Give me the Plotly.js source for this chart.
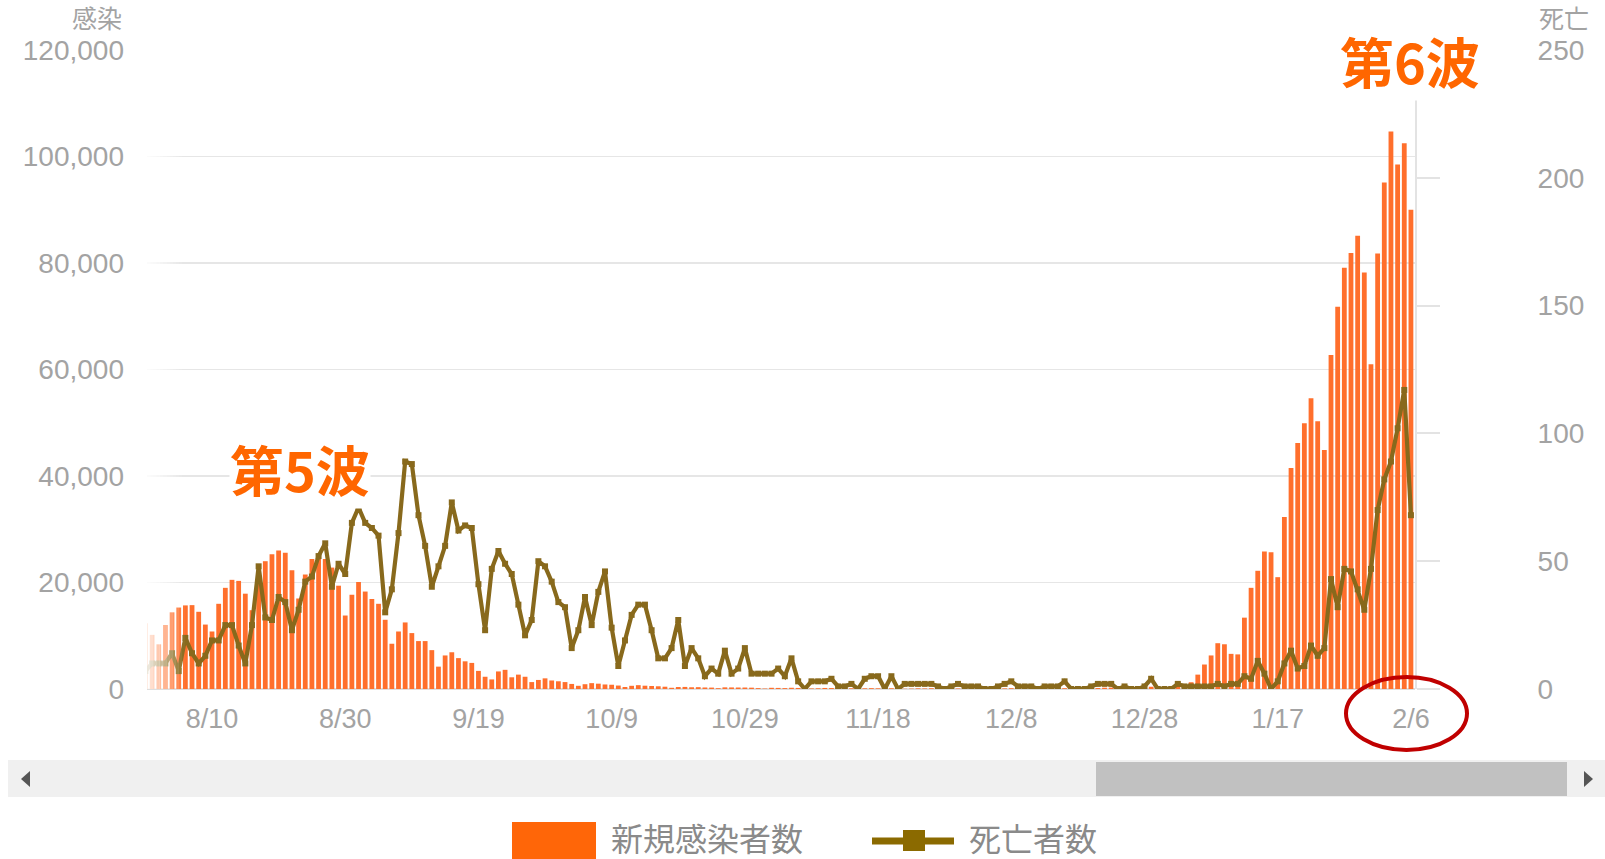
<!DOCTYPE html>
<html>
<head>
<meta charset="utf-8">
<script src="https://cdn.plot.ly/plotly-3.0.1.min.js"></script>
<style>
  html, body { margin:0; padding:0; background:#fff; }
  #chart { width:1605px; height:859px; }
</style>
</head>
<body>
<div id="chart"></div>
<script>
// ---------------- DATA ----------------
const startDate = '2021-07-31';   // first day of the series, one value per day after it

// 新規感染者数 (daily new cases), 7/31 .. 2/6
const cases = [
  12341,
  // Aug
  10168, 8392, 12016, 14400, 15300, 15700, 15750, 14500, 12100, 10800,
  16000, 19000, 20500, 20300, 17900, 14800, 20000, 24000, 25300, 26000,
  25600, 22300, 17000, 21500, 24400, 25000, 24400, 22800, 19400, 13800, 17700,
  // Sep
  20100, 18300, 16900, 16000, 13000, 8500, 10800, 12500, 10500, 9000,
  9000, 7300, 4200, 6300, 6900, 5800, 5200, 4900, 3400, 2300,
  1800, 3300, 3600, 2200, 2700, 2300, 1300, 1700, 2000, 1600,
  // Oct
  1450, 1300, 950, 600, 900, 1100, 1000, 850, 800, 650,
  380, 600, 720, 620, 560, 510, 430, 230, 370, 390,
  325, 345, 285, 265, 155, 310, 295, 280, 277, 250, 166,
  // Nov
  86, 227, 203, 165, 231, 198, 162, 106, 136, 195,
  179, 202, 165, 133, 80, 127, 157, 129, 154, 141,
  114, 50, 76, 125, 100, 146, 129, 118, 77, 101,
  // Dec
  121, 118, 119, 121, 113, 83, 109, 150, 160, 145,
  159, 132, 63, 161, 181, 149, 181, 181, 150, 100,
  182, 245, 263, 291, 323, 262, 204, 382, 422, 502, 493,
  // Jan
  456, 554, 782, 1268, 2700, 4600, 6300, 8600, 8400, 6600,
  6500, 13400, 19000, 22200, 25800, 25700, 21000, 32300, 41500, 46200,
  49900, 54600, 50300, 44900, 62700, 71800, 79100, 81900, 85100, 78200, 61000,
  // Feb
  81800, 95100, 104700, 98500, 102500, 90000
];

// 死亡者数 (daily deaths), 7/31 .. 2/6
const deaths = [
  7,
  // Aug
  10, 10, 10, 14, 7, 20, 14, 10, 13, 19,
  19, 25, 25, 17, 10, 25, 48, 28, 27, 36,
  34, 23, 31, 42, 44, 52, 57, 40, 49, 45, 65,
  // Sep
  71, 65, 63, 60, 30, 39, 61, 89, 88, 68,
  56, 40, 48, 56, 73, 62, 64, 63, 41, 23,
  47, 54, 49, 45, 33, 21, 27, 50, 48, 42,
  // Oct
  34, 32, 16, 23, 36, 25, 38, 46, 24, 9,
  19, 29, 33, 33, 23, 12, 12, 16, 27, 9,
  16, 12, 5, 8, 6, 15, 6, 8, 16, 6, 6,
  // Nov
  6, 6, 8, 5, 12, 3, 0, 3, 3, 3,
  4, 1, 1, 2, 0, 4, 5, 5, 0, 5,
  0, 2, 2, 2, 2, 2, 1, 0, 1, 2,
  // Dec
  1, 1, 1, 0, 0, 1, 2, 3, 1, 1,
  1, 0, 1, 1, 1, 3, 0, 0, 0, 1,
  2, 2, 2, 0, 1, 0, 0, 1, 4, 0, 0,
  // Jan
  0, 2, 1, 1, 1, 1, 1, 2, 1, 2,
  2, 5, 4, 11, 6, 0, 3, 10, 15, 8,
  9, 17, 13, 16, 43, 32, 47, 46, 39, 31, 47,
  // Feb
  70, 82, 89, 102, 117, 68
];

const tickDates  = ['2021-08-10','2021-08-30','2021-09-19','2021-10-09','2021-10-29',
                    '2021-11-18','2021-12-08','2021-12-28','2022-01-17','2022-02-06'];
const tickLabels = ['8/10','8/30','9/19','10/9','10/29','11/18','12/8','12/28','1/17','2/6'];

const leftTicks  = [0, 20000, 40000, 60000, 80000, 100000, 120000];
const rightTicks = [0, 50, 100, 150, 200, 250];

const seriesNames = ['新規感染者数', '死亡者数'];
const waveLabels  = ['第5波', '第6波'];
const axisTitles  = ['感染', '死亡'];

// ---------------- BUILD ----------------
const dates = [];
{
  const t0 = Date.parse(startDate + 'T00:00:00Z');
  for (let i = 0; i < cases.length; i++) {
    dates.push(new Date(t0 + i * 86400000).toISOString().slice(0, 10));
  }
}

const W = 1605, H = 859;
const M = { l: 147, r: 190, t: 50, b: 170 };
const PW = W - M.l - M.r, PH = H - M.t - M.b;
const PX = x => (x - M.l) / PW;
const PY = y => (H - M.b - y) / PH;

const ORANGE = '#ff6f2c';
const OLIVE = '#88691c';
const TICKGRAY = '#a3a3a3';
const TXT = '"Liberation Sans", Arial, Helvetica, sans-serif';
const CJK = '"Noto Sans CJK JP", "Noto Sans", sans-serif';

const traces = [
  {
    type: 'bar', x: dates, y: cases, name: seriesNames[0],
    marker: { color: ORANGE }, yaxis: 'y', hoverinfo: 'x+y'
  },
  {
    type: 'scatter', mode: 'lines+markers', x: dates, y: deaths, name: seriesNames[1],
    line: { color: OLIVE, width: 4.2 },
    marker: { color: OLIVE, symbol: 'square', size: 6 },
    yaxis: 'y2'
  }
];

const shapes = [];
// left fade-out overlay
const fadeW = 38, nStrips = 12;
for (let k = 0; k < nStrips; k++) {
  const x0 = M.l + k * fadeW / nStrips, x1 = M.l + (k + 1) * fadeW / nStrips + 0.3;
  shapes.push({
    type: 'rect', xref: 'paper', yref: 'paper', x0: PX(x0), x1: PX(x1), y0: 0, y1: 1,
    fillcolor: '#ffffff', opacity: 0.88 * (1 - (k + 0.5) / nStrips),
    line: { width: 0 }, layer: 'above'
  });
}
// scrollbar
shapes.push({ type: 'rect', xref: 'paper', yref: 'paper', x0: PX(8), x1: PX(1605), y0: PY(797), y1: PY(760),
  fillcolor: '#f0f0f0', line: { width: 0 } });
shapes.push({ type: 'rect', xref: 'paper', yref: 'paper', x0: PX(1096), x1: PX(1567), y0: PY(796), y1: PY(762),
  fillcolor: '#c1c1c1', line: { width: 0 } });
shapes.push({ type: 'path', xref: 'paper', yref: 'paper',
  path: `M ${PX(21)} ${PY(779)} L ${PX(30)} ${PY(771)} L ${PX(30)} ${PY(787)} Z`,
  fillcolor: '#555555', line: { width: 0 } });
shapes.push({ type: 'path', xref: 'paper', yref: 'paper',
  path: `M ${PX(1593)} ${PY(779)} L ${PX(1584)} ${PY(771)} L ${PX(1584)} ${PY(787)} Z`,
  fillcolor: '#555555', line: { width: 0 } });
// legend symbols
shapes.push({ type: 'rect', xref: 'paper', yref: 'paper', x0: PX(512), x1: PX(596), y0: PY(860), y1: PY(822),
  fillcolor: '#ff6608', line: { width: 0 } });
shapes.push({ type: 'line', xref: 'paper', yref: 'paper', x0: PX(872), x1: PX(954), y0: PY(841), y1: PY(841),
  line: { color: '#8b6a00', width: 7 } });
shapes.push({ type: 'rect', xref: 'paper', yref: 'paper', x0: PX(903), x1: PX(925), y0: PY(851), y1: PY(830),
  fillcolor: '#8b6a00', line: { width: 0 } });
// red circle around 2/6
shapes.push({ type: 'circle', xref: 'paper', yref: 'paper', x0: PX(1346), x1: PX(1467), y0: PY(750), y1: PY(677),
  line: { color: '#c00000', width: 4 }, fillcolor: 'rgba(0,0,0,0)', layer: 'above' });

const annotations = [
  { xref: 'paper', yref: 'paper', x: PX(300), y: PY(468), xanchor: 'center', yanchor: 'middle',
    text: '<b>' + waveLabels[0] + '</b>', showarrow: false, bgcolor: '#ffffff', borderpad: 0,
    font: { family: CJK, size: 54, color: '#ff6600' } },
  { xref: 'paper', yref: 'paper', x: PX(1410), y: PY(60), xanchor: 'center', yanchor: 'middle',
    text: '<b>' + waveLabels[1] + '</b>', showarrow: false, bgcolor: '#ffffff', borderpad: 0,
    font: { family: CJK, size: 54, color: '#ff6600' } },
  { xref: 'paper', yref: 'paper', x: PX(124), y: PY(17), xanchor: 'right', yanchor: 'middle',
    text: axisTitles[0], showarrow: false, font: { family: CJK, size: 25, color: '#a3a3a3' } },
  { xref: 'paper', yref: 'paper', x: PX(1537), y: PY(17), xanchor: 'left', yanchor: 'middle',
    text: axisTitles[1], showarrow: false, font: { family: CJK, size: 25, color: '#a3a3a3' } },
  { xref: 'paper', yref: 'paper', x: PX(609), y: PY(837), xanchor: 'left', yanchor: 'middle',
    text: seriesNames[0], showarrow: false, font: { family: CJK, size: 32, color: '#8a8a8a' } },
  { xref: 'paper', yref: 'paper', x: PX(967), y: PY(837), xanchor: 'left', yanchor: 'middle',
    text: seriesNames[1], showarrow: false, font: { family: CJK, size: 32, color: '#8a8a8a' } }
];

const layout = {
  width: W, height: H,
  margin: { l: M.l, r: M.r, t: M.t, b: M.b, pad: 0 },
  paper_bgcolor: '#ffffff', plot_bgcolor: '#ffffff',
  bargap: 0.28,
  showlegend: false,
  xaxis: {
    type: 'date',
    range: ['2021-07-31 05:45', '2022-02-06 14:40'],
    tickvals: tickDates, ticktext: tickLabels,
    tickfont: { family: TXT, size: 27, color: TICKGRAY },
    showgrid: false, zeroline: false, showline: false, ticks: '',
    ticklabelstandoff: 11, fixedrange: true
  },
  yaxis: {
    range: [0, 120000], tickvals: leftTicks, tickformat: ',d',
    tickfont: { family: TXT, size: 28, color: TICKGRAY },
    showgrid: true, gridcolor: '#e6e6e6', gridwidth: 1.6,
    zeroline: true, zerolinecolor: '#dedede', zerolinewidth: 2,
    showline: false, ticks: '', ticklabelstandoff: 22, fixedrange: true
  },
  yaxis2: {
    overlaying: 'y', side: 'right', range: [0, 250], tickvals: rightTicks,
    tickfont: { family: TXT, size: 28, color: TICKGRAY },
    showgrid: false, zeroline: false,
    showline: true, linecolor: '#e3e3e3', linewidth: 2,
    ticks: 'outside', ticklen: 23, tickwidth: 2, tickcolor: '#e3e3e3',
    ticklabelstandoff: 92, fixedrange: true
  },
  shapes: shapes,
  annotations: annotations
};

Plotly.newPlot('chart', traces, layout, { displayModeBar: false, staticPlot: true });
</script>
</body>
</html>
